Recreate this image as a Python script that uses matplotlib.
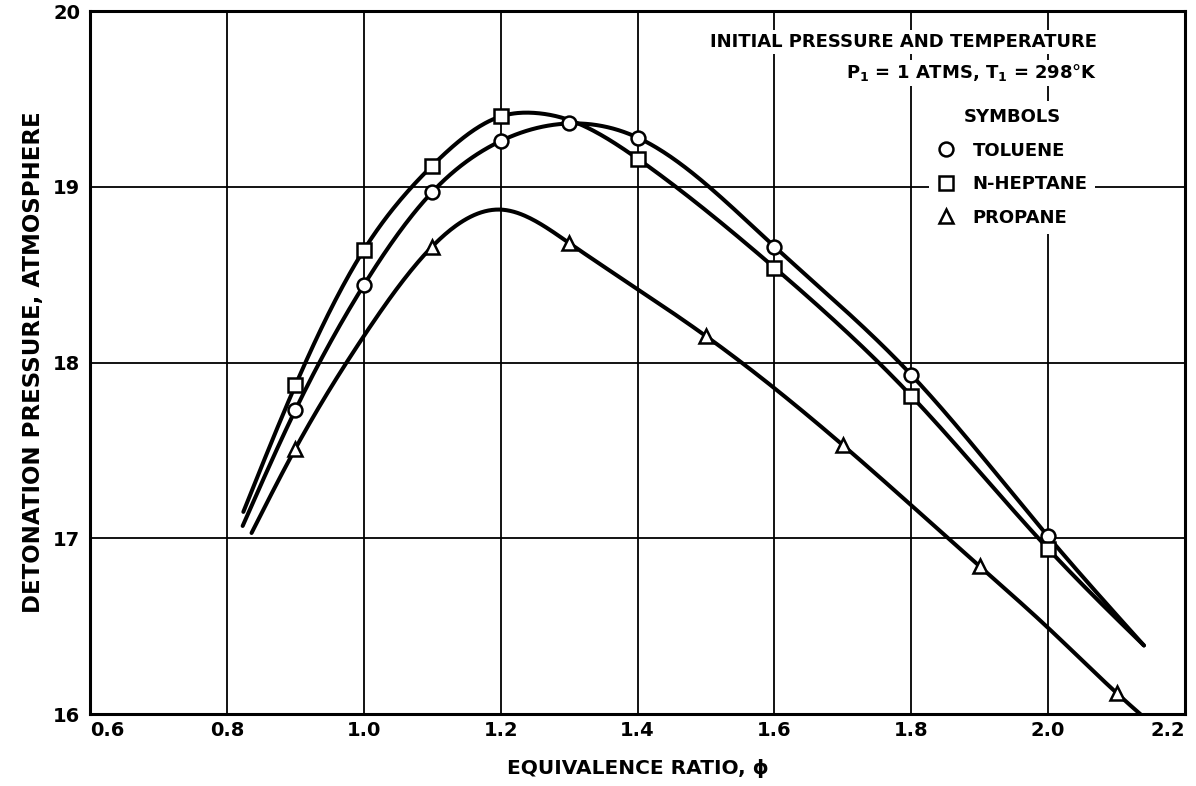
import matplotlib

matplotlib.use("Agg")

import matplotlib.pyplot as plt
import numpy as np
from matplotlib.lines import Line2D

FIGSIZE = (11.96, 7.86)
DPI = 100
CURVE_WIDTH = 2.9
GRID_WIDTH = 1.3
SPINE_WIDTH = 2.2
TEXT_SIZE = 13

# measured points (open symbols)
TOLUENE_PHI = [0.9, 1.0, 1.1, 1.2, 1.3, 1.4, 1.6, 1.8, 2.0]
TOLUENE_P = [17.73, 18.44, 18.97, 19.26, 19.36, 19.28, 18.66, 17.93, 17.01]
HEPTANE_PHI = [0.9, 1.0, 1.1, 1.2, 1.4, 1.6, 1.8, 2.0]
HEPTANE_P = [17.87, 18.64, 19.12, 19.40, 19.16, 18.54, 17.81, 16.94]
PROPANE_PHI = [0.9, 1.1, 1.3, 1.5, 1.7, 1.9, 2.1]
PROPANE_P = [17.51, 18.66, 18.68, 18.15, 17.53, 16.84, 16.12]

# faired curves (including the run-out ends)
TOLUENE_CURVE_PHI = [0.823, 0.9, 1.0, 1.1, 1.2, 1.3, 1.4, 1.6, 1.8, 2.0, 2.14]
TOLUENE_CURVE_P = [17.07, 17.73, 18.44, 18.97, 19.26, 19.36, 19.28, 18.66, 17.93, 17.01, 16.39]
HEPTANE_CURVE_PHI = [0.824, 0.9, 1.0, 1.1, 1.2, 1.25, 1.3, 1.4, 1.6, 1.8, 2.0, 2.14]
HEPTANE_CURVE_P = [17.15, 17.87, 18.64, 19.12, 19.40, 19.42, 19.38, 19.16, 18.54, 17.81, 16.94, 16.39]
PROPANE_CURVE_PHI = [0.836, 0.9, 1.0, 1.1, 1.2, 1.3, 1.5, 1.7, 1.9, 2.0, 2.1, 2.155]
PROPANE_CURVE_P = [17.03, 17.51, 18.15, 18.66, 18.87, 18.68, 18.15, 17.53, 16.84, 16.49, 16.12, 15.93]

X_TICKS = [0.6, 0.8, 1.0, 1.2, 1.4, 1.6, 1.8, 2.0, 2.2]
Y_TICKS = [16, 17, 18, 19, 20]


def natural_spline(xk, yk, n=500):
    xk = np.asarray(xk, dtype=float)
    yk = np.asarray(yk, dtype=float)
    m = len(xk)
    h = np.diff(xk)
    a = np.zeros((m, m))
    b = np.zeros(m)
    a[0, 0] = a[-1, -1] = 1.0
    for i in range(1, m - 1):
        a[i, i - 1] = h[i - 1]
        a[i, i] = 2 * (h[i - 1] + h[i])
        a[i, i + 1] = h[i]
        b[i] = 6 * ((yk[i + 1] - yk[i]) / h[i] - (yk[i] - yk[i - 1]) / h[i - 1])
    mm = np.linalg.solve(a, b)
    xs = np.linspace(xk[0], xk[-1], n)
    idx = np.clip(np.searchsorted(xk, xs) - 1, 0, m - 2)
    x0, x1 = xk[idx], xk[idx + 1]
    hh = x1 - x0
    t0, t1 = x1 - xs, xs - x0
    ys = (mm[idx] * t0 ** 3 + mm[idx + 1] * t1 ** 3) / (6 * hh) \
        + (yk[idx] / hh - mm[idx] * hh / 6) * t0 \
        + (yk[idx + 1] / hh - mm[idx + 1] * hh / 6) * t1
    return xs, ys


def open_marker(marker):
    return Line2D([], [], marker=marker, color="black", markerfacecolor="white",
                  markeredgewidth=1.8, markersize=10, linestyle="none")


def main():
    plt.rcParams["font.family"] = ["DejaVu Sans"]
    fig = plt.figure(figsize=FIGSIZE, dpi=DPI)
    ax = fig.add_axes([0.0753, 0.0916, 0.9155, 0.8944])

    ax.set_xlim(0.6, 2.2)
    ax.set_ylim(16, 20)
    ax.set_xticks(X_TICKS)
    ax.set_xticklabels([f"{v:.1f}" for v in X_TICKS], fontsize=14, fontweight="bold")
    ax.set_yticks(Y_TICKS)
    ax.set_yticklabels([str(v) for v in Y_TICKS], fontsize=14, fontweight="bold")
    ax.tick_params(axis="x", length=0, pad=5)
    ax.tick_params(axis="y", length=0, pad=7)
    xlabels = ax.get_xticklabels()
    xlabels[0].set_horizontalalignment("left")
    xlabels[-1].set_horizontalalignment("right")
    ax.grid(True, color="black", linewidth=GRID_WIDTH)
    ax.set_axisbelow(True)
    for spine in ax.spines.values():
        spine.set_linewidth(SPINE_WIDTH)

    curves = [
        (TOLUENE_CURVE_PHI, TOLUENE_CURVE_P),
        (HEPTANE_CURVE_PHI, HEPTANE_CURVE_P),
        (PROPANE_CURVE_PHI, PROPANE_CURVE_P),
    ]
    for xk, yk in curves:
        xs, ys = natural_spline(xk, yk)
        ax.plot(xs, ys, color="black", linewidth=CURVE_WIDTH, zorder=3,
                solid_capstyle="round")

    mk = dict(color="black", markerfacecolor="white", markeredgewidth=1.8,
              linestyle="none", markersize=10, zorder=4)
    ax.plot(TOLUENE_PHI, TOLUENE_P, marker="o", **mk)
    ax.plot(HEPTANE_PHI, HEPTANE_P, marker="s", **mk)
    ax.plot(PROPANE_PHI, PROPANE_P, marker="^", **mk)

    box = dict(facecolor="white", edgecolor="none", pad=2)
    ax.text(0.9196, 0.956, "INITIAL PRESSURE AND TEMPERATURE", transform=ax.transAxes,
            ha="right", va="center", fontsize=TEXT_SIZE, fontweight="bold", bbox=box,
            zorder=5)
    ax.text(0.9196, 0.912, r"P$_\mathbf{1}$ = 1 ATMS, T$_\mathbf{1}$ = 298°K",
            transform=ax.transAxes, ha="right", va="center", fontsize=TEXT_SIZE,
            fontweight="bold", bbox=box, zorder=5)

    handles = [open_marker("o"), open_marker("s"), open_marker("^")]
    leg = ax.legend(handles, ["TOLUENE", "N-HEPTANE", "PROPANE"], title="SYMBOLS",
                    loc="upper right", bbox_to_anchor=(0.926, 0.885),
                    frameon=True, framealpha=1, edgecolor="none", fancybox=False,
                    handlelength=1.0, handletextpad=1.0, labelspacing=0.86,
                    borderpad=0.4, prop={"size": TEXT_SIZE, "weight": "bold"},
                    title_fontproperties={"size": TEXT_SIZE, "weight": "bold"})
    leg.set_zorder(5)

    ax.set_xlabel("EQUIVALENCE RATIO, \u03d5", fontsize=14.5, fontweight="bold", labelpad=14)
    ax.set_ylabel("DETONATION PRESSURE, ATMOSPHERE", fontsize=16.5, fontweight="bold",
                  labelpad=6)

    fig.savefig("out.png", dpi=DPI)
    plt.close(fig)


if __name__ == "__main__":
    main()
